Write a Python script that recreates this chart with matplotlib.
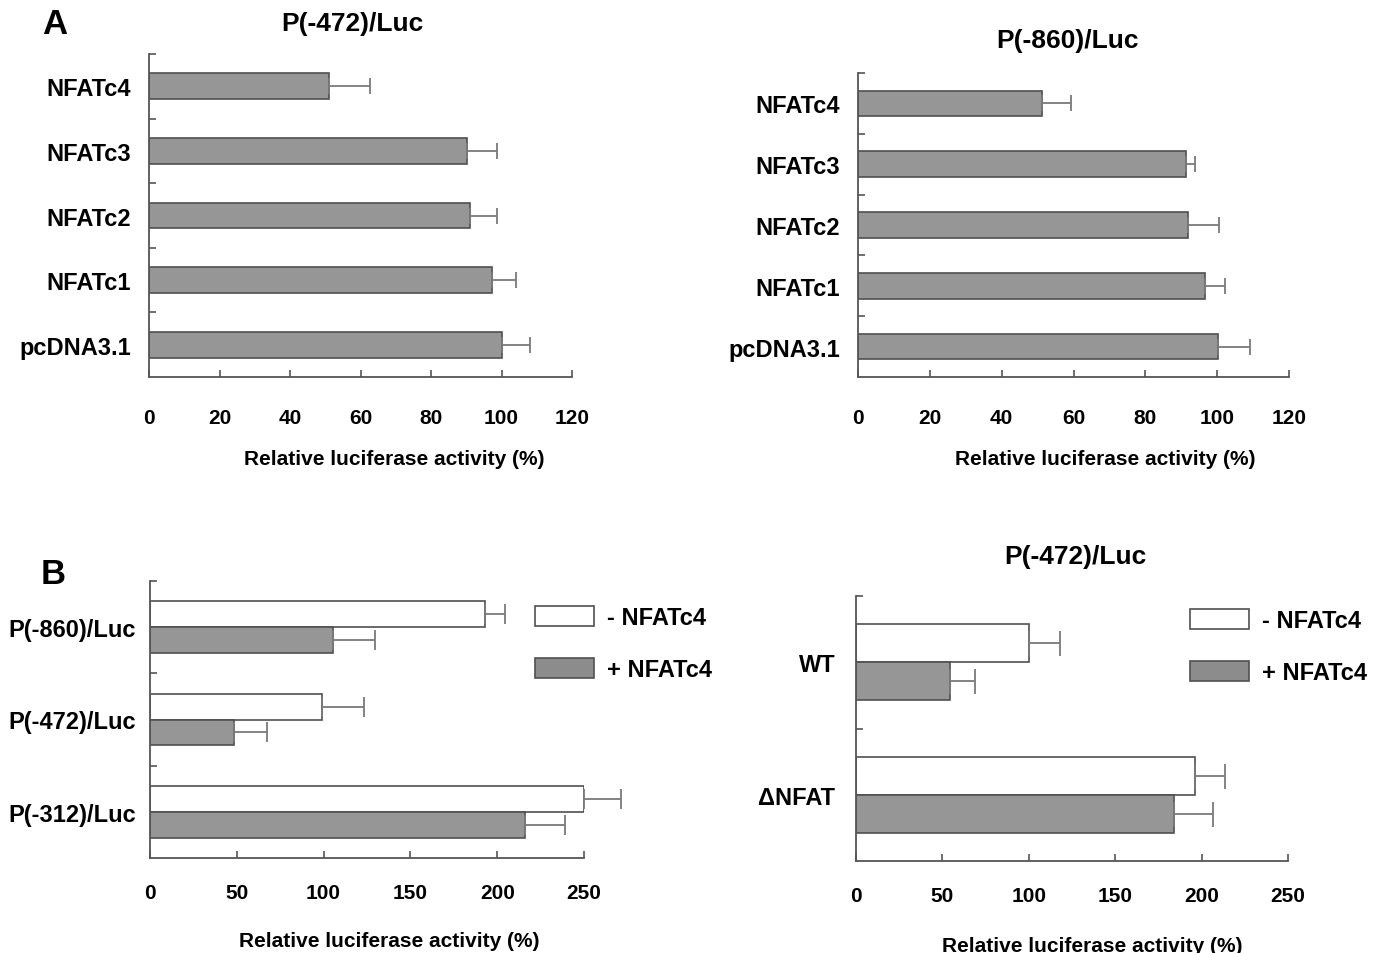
import numpy as np
import matplotlib
matplotlib.use('Agg')
import matplotlib.pyplot as plt
from matplotlib.patches import Patch

plt.rcParams['font.family'] = ['Liberation Sans', 'DejaVu Sans']
plt.rcParams['font.weight'] = 'bold'

# panel A: effect of NFAT isoforms (bottom -> top order)
a_labels = ['pcDNA3.1', 'NFATc1', 'NFATc2', 'NFATc3', 'NFATc4']
a472_vals = [100.1, 97.3, 91.2, 90.3, 51.0]
a472_err = [8.0, 6.8, 7.4, 8.5, 11.7]
a860_vals = [100.2, 96.6, 92.0, 91.3, 51.1]
a860_err = [9.0, 5.5, 8.4, 2.4, 8.2]

# panel B left: promoter constructs -/+ NFATc4
b1_labels = ['P(-312)/Luc', 'P(-472)/Luc', 'P(-860)/Luc']
b1_minus = [250.0, 99.2, 192.8]
b1_minus_err = [21.6, 24.3, 11.8]
b1_plus = [215.8, 48.2, 105.4]
b1_plus_err = [23.0, 19.0, 24.2]

# panel B right: WT vs deleted NFAT site
b2_labels = ['\u0394NFAT', 'WT']
b2_minus = [196.3, 99.9]
b2_minus_err = [17.3, 18.2]
b2_plus = [184.0, 54.5]
b2_plus_err = [22.5, 14.1]

W, H = 1386, 954
GRAY = '#969696'
EDGE = '#505050'
ECOL = '#7a7a7a'
AX = '#555555'

fig = plt.figure(figsize=(W / 100, H / 100), dpi=100)


def box(x0, x1, ytop, ybot):
    return [x0 / W, 1 - ybot / H, (x1 - x0) / W, (ybot - ytop) / H]


def style(ax, n, xmax, step, tickpad, ylabpad, labelpad, labelx):
    for s in ['top', 'right']:
        ax.spines[s].set_visible(False)
    for s in ['left', 'bottom']:
        ax.spines[s].set_color(AX)
        ax.spines[s].set_linewidth(1.3)
    ax.set_ylim(-0.5, n - 0.5)
    ax.set_xlim(0, xmax)
    ax.set_xticks(np.arange(0, xmax + 1, step))
    ax.set_yticks(np.arange(n) + 0.5, minor=True)
    ax.tick_params(axis='x', direction='in', length=5, width=1.2, color=AX,
                   pad=tickpad, labelsize=15)
    ax.tick_params(axis='y', which='major', length=0, pad=ylabpad, labelsize=17)
    ax.tick_params(axis='y', which='minor', direction='in', length=5, width=1.2, color=AX)
    ax.set_xlabel('Relative luciferase activity (%)', fontsize=15,
                  fontweight='bold', labelpad=labelpad, x=labelx)


def errs(ax, vals, y, err, cap):
    eb = ax.errorbar(vals, y, xerr=[np.zeros(len(vals)), err], fmt='none',
                     ecolor=ECOL, elinewidth=1.3, capsize=cap, capthick=1.3)
    for part in eb.get_children():
        part.set_clip_on(False)


def panel_a(ax, vals, err, h, labelx):
    y = np.arange(len(a_labels))
    ax.barh(y, vals, height=h, color=GRAY, edgecolor=EDGE, linewidth=1.2)
    errs(ax, vals, y, err, 5.5)
    ax.set_yticks(y)
    ax.set_yticklabels(a_labels)
    style(ax, len(a_labels), 120, 20, 22, 13, 16, labelx)


def panel_b(ax, labels, minus, minus_err, plus, plus_err, h, cap, ypad, lpad, labelx):
    y = np.arange(len(labels))
    ax.barh(y + h / 2, minus, height=h, color='white', edgecolor=EDGE, linewidth=1.2)
    ax.barh(y - h / 2, plus, height=h, color=GRAY, edgecolor=EDGE, linewidth=1.2)
    errs(ax, minus, y + h / 2, minus_err, cap)
    errs(ax, plus, y - h / 2, plus_err, cap)
    ax.set_yticks(y)
    ax.set_yticklabels(labels)
    style(ax, len(labels), 250, 50, 18, ypad, lpad, labelx)


def legend_at(ax, x, y):
    handles = [Patch(facecolor='white', edgecolor=EDGE, linewidth=1.2, label='- NFATc4'),
               Patch(facecolor='#8c8c8c', edgecolor=EDGE, linewidth=1.2, label='+ NFATc4')]
    ax.legend(handles=handles, loc='upper left', bbox_to_anchor=(x / W, 1 - y / H),
              bbox_transform=fig.transFigure, frameon=False, borderpad=0,
              borderaxespad=0, fontsize=17, handlelength=2.5, handleheight=0.95,
              handletextpad=0.55, labelspacing=1.22)


ax1 = fig.add_axes(box(149, 572, 55, 378))
panel_a(ax1, a472_vals, a472_err, 0.4, 0.579)

ax2 = fig.add_axes(box(858, 1289, 74, 378))
panel_a(ax2, a860_vals, a860_err, 0.42, 0.573)

ax3 = fig.add_axes(box(150, 584, 582, 859))
panel_b(ax3, b1_labels, b1_minus, b1_minus_err, b1_plus, b1_plus_err, 0.28, 7, 10, 21, 0.551)
legend_at(ax3, 535, 607)

ax4 = fig.add_axes(box(856, 1288, 597, 862))
panel_b(ax4, b2_labels, b2_minus, b2_minus_err, b2_plus, b2_plus_err, 0.285, 9, 15, 22, 0.546)
legend_at(ax4, 1190, 610)

fig.text(55 / W, 1 - 25 / H, 'A', fontsize=25, fontweight='bold', ha='center', va='center')
fig.text(53 / W, 1 - 575 / H, 'B', fontsize=25, fontweight='bold', ha='center', va='center')
fig.text(352 / W, 1 - 24 / H, 'P(-472)/Luc', fontsize=19, fontweight='bold', ha='center', va='center')
fig.text(1068 / W, 1 - 41 / H, 'P(-860)/Luc', fontsize=19, fontweight='bold', ha='center', va='center')
fig.text(1075 / W, 1 - 557 / H, 'P(-472)/Luc', fontsize=19, fontweight='bold', ha='center', va='center')

fig.savefig('out.png', dpi=100)
